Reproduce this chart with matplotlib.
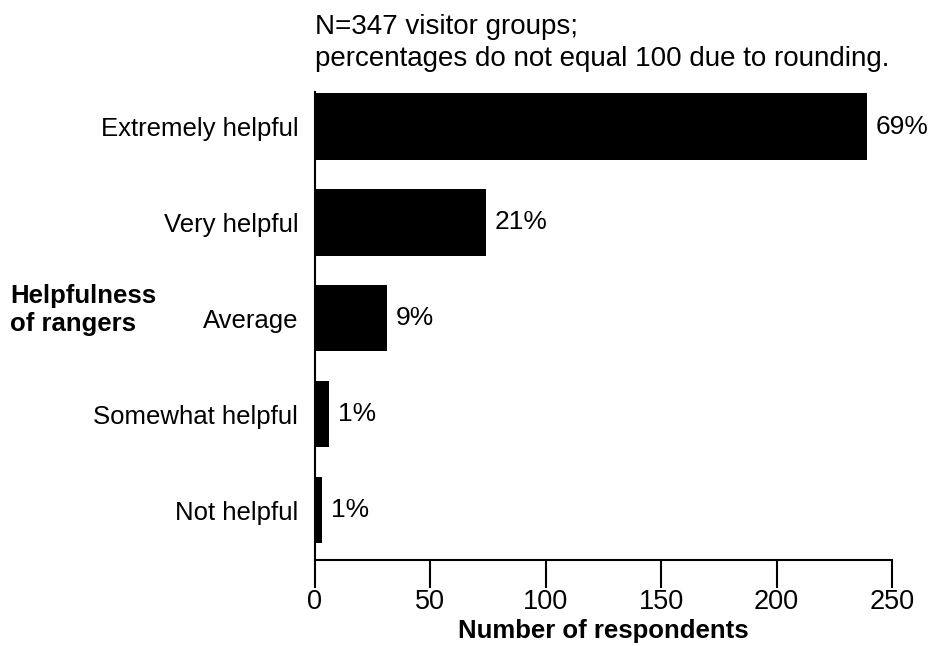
import matplotlib
matplotlib.use("Agg")
import matplotlib.pyplot as plt

plt.rcParams["font.family"] = ["Liberation Sans", "DejaVu Sans"]

categories = ["Extremely helpful", "Very helpful", "Average", "Somewhat helpful", "Not helpful"]
counts = [239, 74, 31, 6, 3]
pct_labels = ["69%", "21%", "9%", "1%", "1%"]
x_ticks = [0, 50, 100, 150, 200, 250]

fig = plt.figure(figsize=(9.36, 6.46), dpi=100)
ax = fig.add_axes([315 / 936, 1 - 560 / 646, (892 - 315) / 936, (560 - 92) / 646])

ypos = list(range(len(categories)))
ax.barh(ypos, counts, height=0.69, color="black")
for y, c, lab in zip(ypos, counts, pct_labels):
    ax.text(c + 4, y, lab, va="center", ha="left", fontsize=19)

ax.set_xlim(0, 250)
ax.set_ylim(4.52, -0.36)
ax.set_xticks(x_ticks)
ax.set_yticks(ypos)
ax.set_yticklabels(categories)
ax.tick_params(axis="y", length=0, pad=12, labelsize=18.5)
ax.tick_params(axis="x", length=20, width=1.5, direction="out", pad=1, labelsize=19.5)
for s in ["top", "right"]:
    ax.spines[s].set_visible(False)
for s in ["left", "bottom"]:
    ax.spines[s].set_linewidth(1.5)

ax.set_xlabel("Number of respondents", fontsize=18.5, fontweight="bold", labelpad=3)

fig.text(315 / 936, 1 - 14 / 646, "N=347 visitor groups;\npercentages do not equal 100 due to rounding.",
         ha="left", va="top", fontsize=20, linespacing=1.28)
fig.text(10 / 936, 1 - 310 / 646, "Helpfulness\nof rangers", ha="left", va="center",
         fontsize=18.5, fontweight="bold", linespacing=1.25)

fig.savefig("out.png", dpi=100)
